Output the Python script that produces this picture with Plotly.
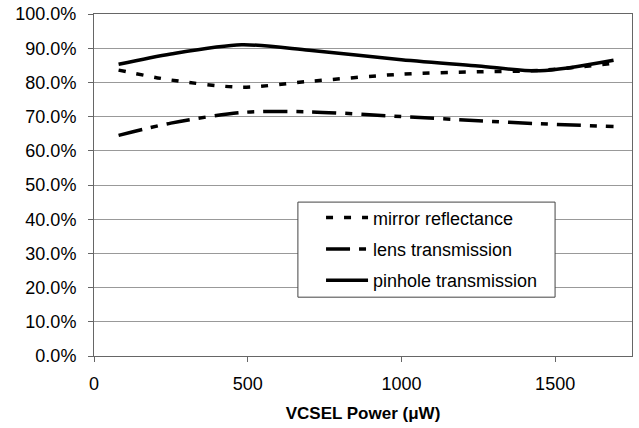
import plotly.graph_objects as go

power = [80, 250, 480, 700, 1000, 1250, 1450, 1690]
mirror = [0.836, 0.807, 0.786, 0.803, 0.824, 0.831, 0.835, 0.856]
lens = [0.645, 0.681, 0.712, 0.714, 0.700, 0.688, 0.679, 0.671]
pinhole = [0.853, 0.883, 0.910, 0.894, 0.866, 0.848, 0.834, 0.865]
names = ["mirror reflectance", "lens transmission", "pinhole transmission"]
x_ticks = [0, 500, 1000, 1500]
y_ticks = [i / 10 for i in range(11)]

FONT = "Liberation Sans, Arial, sans-serif"
fig = go.Figure()
styles = ["7px,11px", "24px,9px,7px,9px", "solid"]
for i, (nm, ys, ds) in enumerate(zip(names, [mirror, lens, pinhole], styles)):
    fig.add_trace(go.Scatter(
        x=power, y=ys, name=nm, mode="lines", legendgroup=f"g{i}",
        line=dict(color="black", width=3.5, dash=ds, shape="spline", smoothing=0.8),
    ))

# legend frame
fig.add_shape(type="rect", xref="paper", yref="paper",
              x0=0.379, x1=0.857, y0=0.172, y1=0.450,
              line=dict(color="#444", width=1), fillcolor="white", layer="above")

fig.update_layout(
    width=639, height=428,
    margin=dict(l=94, r=7, t=14, b=72),
    paper_bgcolor="white", plot_bgcolor="white",
    font=dict(family=FONT, size=18, color="black"),
    showlegend=True,
    legend=dict(
        x=0.422, y=0.458, xanchor="left", yanchor="top",
        bgcolor="rgba(0,0,0,0)", borderwidth=0,
        font=dict(size=18), tracegroupgap=5, itemwidth=42,
    ),
    xaxis=dict(
        range=[0, 1750], tickvals=x_ticks, ticktext=[str(v) for v in x_ticks],
        showgrid=False, zeroline=False, showline=True, linecolor="#666", linewidth=1,
        mirror=True, ticks="outside", ticklen=5, tickcolor="#666",
        ticklabelstandoff=6, automargin=False,
        title=dict(text="<b>VCSEL Power (\u03bcW)</b>", font=dict(size=17), standoff=14),
    ),
    yaxis=dict(
        range=[0, 1], tickvals=y_ticks, tickformat=".1%",
        showgrid=True, gridcolor="#999999", gridwidth=1,
        zeroline=False, showline=True, linecolor="#666", linewidth=1,
        mirror=True, ticks="outside", ticklen=5, tickcolor="#666",
        ticklabelstandoff=8, automargin=False,
    ),
)
fig.write_html("out.html", config={"displayModeBar": False},
               post_script="document.body.style.margin='0';")
